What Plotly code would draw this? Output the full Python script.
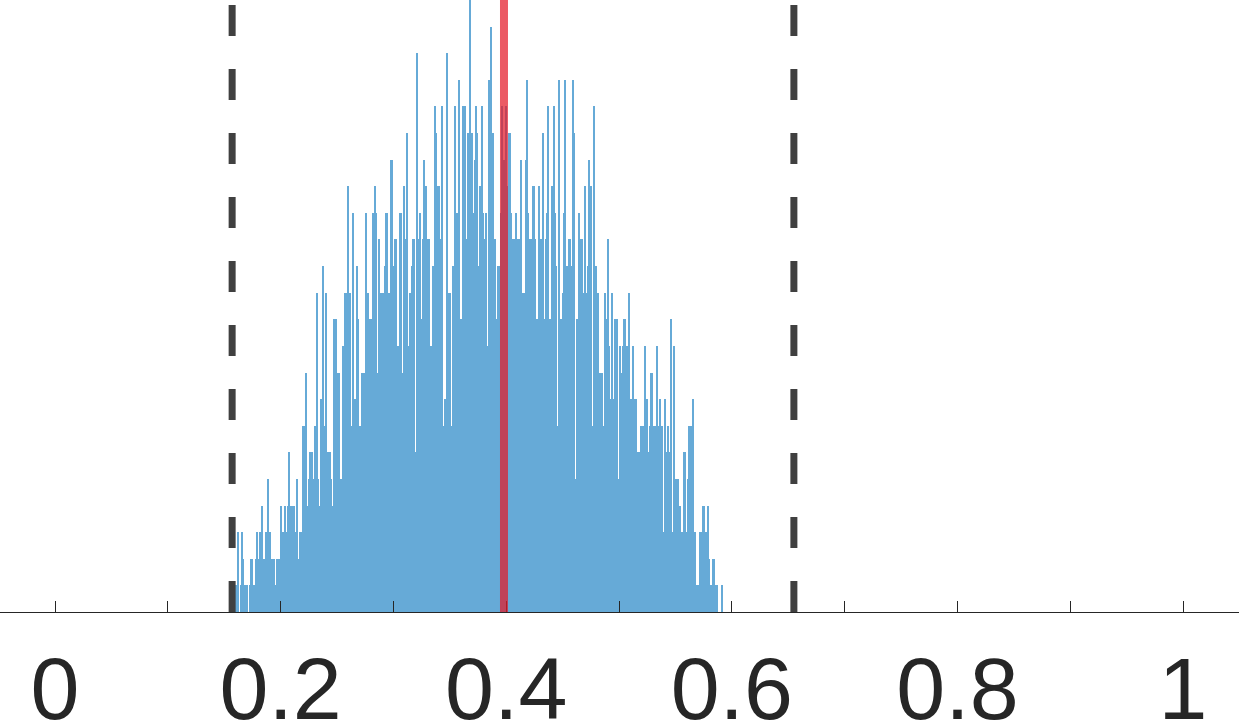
import plotly.graph_objects as go

# ---- data ----
bin_start = 0.160
bin_width = 0.001
counts = [
    1, 1, 3, 0, 1, 3, 2, 1, 1, 0,
    1, 0, 1, 2, 2, 1, 1, 1, 2, 3,
    2, 3, 1, 4, 1, 2, 2, 3, 5, 2,
    3, 1, 2, 2, 2, 1, 2, 2, 2, 2,
    4, 3, 3, 4, 3, 3, 4, 6, 4, 4,
    4, 4, 3, 2, 5, 2, 1, 3, 3, 7,
    7, 4, 9, 4, 3, 5, 6, 6, 5, 5,
    7, 5, 12, 5, 4, 8, 5, 13, 7, 7,
    12, 6, 6, 6, 5, 4, 4, 11, 7, 11,
    9, 9, 5, 5, 4, 10, 7, 12, 12, 16,
    5, 12, 6, 7, 15, 8, 8, 13, 11, 6,
    7, 6, 9, 9, 9, 15, 5, 12, 10, 11,
    11, 15, 12, 16, 15, 9, 7, 14, 12, 12,
    12, 3, 13, 15, 15, 12, 12, 17, 17, 13,
    9, 14, 14, 10, 10, 15, 15, 9, 9, 16,
    14, 14, 18, 10, 12, 12, 13, 14, 14, 6,
    21, 14, 6, 15, 11, 11, 14, 17, 16, 9,
    14, 14, 8, 10, 10, 13, 19, 18, 15, 16,
    16, 14, 10, 19, 7, 8, 7, 21, 12, 12,
    12, 7, 13, 13, 19, 15, 12, 15, 20, 11,
    11, 19, 15, 19, 14, 14, 18, 23, 18, 18,
    13, 15, 17, 19, 18, 13, 16, 16, 19, 15,
    14, 12, 15, 10, 20, 17, 22, 17, 18, 14,
    14, 11, 13, 13, 9, 15, 19, 15, 17, 19,
    15, 16, 18, 18, 15, 14, 14, 12, 15, 10,
    14, 14, 14, 17, 12, 12, 12, 17, 20, 15,
    14, 14, 14, 16, 16, 14, 11, 11, 9, 16,
    14, 14, 18, 11, 11, 14, 15, 19, 11, 11,
    16, 10, 19, 15, 13, 7, 20, 11, 11, 9,
    12, 15, 20, 13, 13, 14, 14, 13, 8, 20,
    18, 5, 11, 11, 15, 14, 14, 14, 12, 16,
    12, 7, 13, 17, 9, 16, 7, 19, 13, 13,
    10, 12, 6, 9, 9, 7, 7, 12, 11, 11,
    14, 10, 8, 12, 8, 8, 11, 11, 11, 5,
    10, 9, 9, 10, 11, 11, 10, 10, 12, 6,
    8, 8, 10, 8, 7, 8, 6, 3, 6, 7,
    7, 7, 6, 10, 8, 6, 4, 7, 9, 9,
    7, 7, 3, 10, 6, 7, 8, 6, 7, 3,
    8, 3, 6, 7, 3, 6, 11, 3, 10, 3,
    5, 2, 5, 4, 4, 3, 3, 6, 6, 3,
    2, 5, 7, 7, 7, 8, 3, 3, 0, 1,
    1, 3, 3, 2, 4, 4, 1, 3, 4, 2,
    0, 1, 1, 2, 2, 1, 1, 0, 0, 0,
    0, 1,
]
estimate = 0.398          # red line
interval = [0.157, 0.655]  # dashed bounds
tick_values = [0, 0.2, 0.4, 0.6, 0.8, 1]
tick_labels = ["0", "0.2", "0.4", "0.6", "0.8", "1"]

x_centers = [bin_start + bin_width * (i + 0.5) for i in range(len(counts))]
y_top = 23

fig = go.Figure()
fig.add_trace(go.Bar(
    x=x_centers, y=counts, width=bin_width,
    marker=dict(color="rgb(102,170,215)", line=dict(width=0)),
    hoverinfo="x+y", showlegend=False,
))

shapes = []
for v in interval:
    shapes.append(dict(type="line", xref="x", yref="y", x0=v, x1=v, y0=0, y1=y_top,
                       line=dict(color="#404040", width=7, dash="31px,33px"), layer="above"))
shapes.append(dict(type="line", xref="x", yref="y", x0=estimate, x1=estimate, y0=0, y1=y_top,
                   line=dict(color="rgba(227,26,40,0.72)", width=8), layer="above"))

fig.update_layout(
    width=1239, height=722,
    margin=dict(l=0, r=0, t=0, b=110, pad=0, autoexpand=False),
    paper_bgcolor="white", plot_bgcolor="white",
    bargap=0, shapes=shapes,
    xaxis=dict(
        range=[-0.0488, 1.0496], tickvals=tick_values, ticktext=tick_labels,
        automargin=False,
        ticks="inside", ticklen=11, tickwidth=1, tickcolor="#262626",
        showline=True, linecolor="#262626", linewidth=1,
        showgrid=False, zeroline=False,
        minor=dict(tick0=0, dtick=0.1, ticks="inside", ticklen=11, tickwidth=1,
                   tickcolor="#262626", showgrid=False),
        tickfont=dict(family="Liberation Sans, Arial, sans-serif", size=88, color="#262626"),
    ),
    yaxis=dict(range=[0, y_top], visible=False, showgrid=False, zeroline=False,
               automargin=False),
)

fig.write_html("out.html",
               config={"displayModeBar": False},
               post_script="document.body.style.margin='0px';document.body.style.overflow='hidden';")
